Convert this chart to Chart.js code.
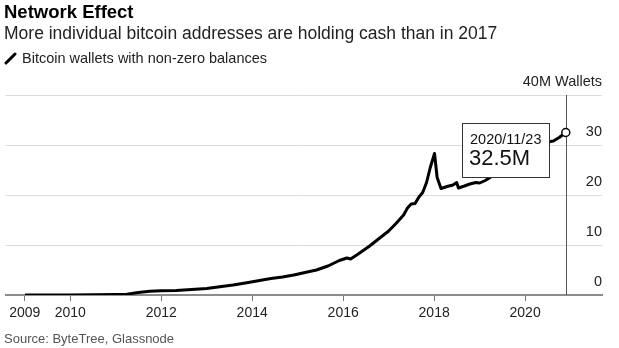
<!DOCTYPE html>
<html>
<head>
<meta charset="utf-8">
<script src="https://cdn.jsdelivr.net/npm/chart.js@4.4.0/dist/chart.umd.min.js"></script>
<style>
  body { margin: 0; background: #fff; font-family: "Liberation Sans", Arial, sans-serif; }
  #wrap { position: relative; width: 619px; height: 348px; overflow: hidden; }
  #chart { position: absolute; left: 0; top: 0; }
  .txt { position: absolute; white-space: nowrap; line-height: 1; }
  .title { left: 4px; top: 3px; font-size: 18.5px; font-weight: bold; color: #000; }
  .subtitle { left: 4px; top: 24.5px; font-size: 17.5px; color: #222; }
  .legend { left: 22px; top: 51px; font-size: 14.5px; color: #222; }
  .legend-icon { position: absolute; left: 4px; top: 52px; }
  .source { left: 4px; top: 332px; font-size: 13px; color: #555; }
</style>
</head>
<body>
<div id="wrap">
  <canvas id="chart" width="619" height="348"></canvas>
  <div class="txt title">Network Effect</div>
  <div class="txt subtitle">More individual bitcoin addresses are holding cash than in 2017</div>
  <svg class="legend-icon" width="14" height="14"><line x1="2" y1="11" x2="11" y2="2" stroke="#000" stroke-width="3" stroke-linecap="round"/></svg>
  <div class="txt legend">Bitcoin wallets with non-zero balances</div>
  <div class="txt source">Source: ByteTree, Glassnode</div>
</div>
<script>
// wallets with non-zero balance, millions
const dates = [
  '2009-01-03', '2009-07-01', '2010-01-01', '2010-07-01', '2011-01-01', '2011-04-01',
  '2011-07-01', '2011-10-01', '2012-01-01', '2012-05-01', '2012-09-01', '2013-01-01',
  '2013-04-01', '2013-08-01', '2013-12-01', '2014-03-01', '2014-06-01', '2014-09-01',
  '2014-12-01', '2015-03-01', '2015-06-01', '2015-09-01', '2015-12-01', '2016-02-01',
  '2016-03-01', '2016-05-01', '2016-08-01', '2016-10-01', '2017-01-01', '2017-03-01',
  '2017-05-01', '2017-06-01', '2017-07-01', '2017-08-01', '2017-09-01', '2017-10-01',
  '2017-11-01', '2017-12-01', '2018-01-04', '2018-01-25', '2018-02-25', '2018-04-15',
  '2018-06-01', '2018-07-01', '2018-07-15', '2018-09-01', '2018-10-15', '2018-12-01',
  '2019-01-01', '2019-02-15', '2019-04-01', '2019-07-01', '2019-10-01', '2020-01-01',
  '2020-04-01', '2020-07-01', '2020-08-15', '2020-10-01', '2020-11-23'
];
const wallets = [
  0.0, 0.0, 0.0, 0.05, 0.1, 0.15,
  0.5, 0.75, 0.85, 0.9, 1.1, 1.3,
  1.6, 2.0, 2.5, 2.9, 3.3, 3.6,
  4.0, 4.5, 5.0, 5.8, 6.9, 7.4,
  7.2, 8.2, 9.8, 11.0, 12.8, 14.3,
  16.0, 17.4, 18.2, 18.3, 19.6, 20.5,
  22.5, 25.5, 28.3, 23.5, 21.3, 21.7,
  22.0, 22.5, 21.4, 21.8, 22.2, 22.5,
  22.4, 22.9, 23.6, 24.8, 26.0, 27.5,
  29.0, 30.6, 30.8, 31.5, 32.5
];
const yearTicks = [2009, 2010, 2012, 2014, 2016, 2018, 2020];
const valueTicks = [0, 10, 20, 30, 40];
const unitLabel = 'M Wallets';

function toYear(s) {
  const d = new Date(s + 'T00:00:00Z');
  const y = d.getUTCFullYear();
  const start = Date.UTC(y, 0, 1), end = Date.UTC(y + 1, 0, 1);
  return y + (d.getTime() - start) / (end - start);
}

const points = dates.map((d, i) => ({ x: toYear(d), y: wallets[i] }));
const lastIdx = points.length - 1;
const FONT = '"Liberation Sans", Arial, sans-serif';

// vertical marker at the latest reading plus the callout box
const endMarker = {
  id: 'endMarker',
  beforeDatasetsDraw(chart) {
    const { ctx, scales: { x, y } } = chart;
    const px = Math.round(x.getPixelForValue(points[lastIdx].x)) + 0.5;
    ctx.save();
    ctx.strokeStyle = '#555';
    ctx.lineWidth = 1;
    ctx.beginPath();
    ctx.moveTo(px, y.getPixelForValue(40));
    ctx.lineTo(px, y.getPixelForValue(0));
    ctx.stroke();
    ctx.restore();
  },
  afterDatasetsDraw(chart) {
    const { ctx, scales: { x, y } } = chart;
    const px = x.getPixelForValue(points[lastIdx].x);
    const py = y.getPixelForValue(points[lastIdx].y);
    const dateText = dates[lastIdx].replace(/-/g, '/');
    const valText = wallets[lastIdx].toFixed(1) + 'M';
    ctx.save();
    ctx.font = '14.5px ' + FONT;
    const w1 = ctx.measureText(dateText).width;
    ctx.font = '22px ' + FONT;
    const w2 = ctx.measureText(valText).width;
    const bw = Math.max(w1, w2) + 16;
    const right = Math.round(px - 17);
    const left = right - Math.round(bw);
    const top = Math.round(py - 9.5);
    const bottom = Math.round(py + 44.5);
    ctx.fillStyle = '#fff';
    ctx.fillRect(left, top, right - left, bottom - top);
    ctx.strokeStyle = '#333';
    ctx.lineWidth = 1;
    ctx.strokeRect(left + 0.5, top + 0.5, right - left, bottom - top);
    ctx.fillStyle = '#111';
    ctx.textBaseline = 'alphabetic';
    ctx.font = '14.5px ' + FONT;
    ctx.fillText(dateText, left + 8, py + 11);
    ctx.font = '22px ' + FONT;
    ctx.fillText(valText, left + 7, py + 32.5);
    ctx.restore();
  }
};

new Chart(document.getElementById('chart'), {
  type: 'line',
  data: {
    datasets: [{
      data: points,
      borderColor: '#000',
      borderWidth: 3,
      borderJoinStyle: 'round',
      tension: 0,
      pointRadius: ctx => ctx.dataIndex === lastIdx ? 4 : 0,
      pointHoverRadius: 0,
      pointBackgroundColor: '#fff',
      pointBorderColor: '#000',
      pointBorderWidth: 1.5
    }]
  },
  options: {
    responsive: false,
    animation: false,
    events: [],
    layout: { padding: { left: 4, right: 17, top: 95, bottom: 23 } },
    plugins: { legend: { display: false }, tooltip: { enabled: false } },
    scales: {
      x: {
        type: 'linear',
        min: 2008.577,
        max: 2021.69,
        afterBuildTicks: scale => { scale.ticks = yearTicks.map(v => ({ value: v })); },
        afterFit: scale => { scale.height = 30; },
        grid: { drawOnChartArea: false, drawTicks: true, tickLength: 6, color: '#777', lineWidth: 1 },
        border: { display: true, color: '#8c8c8c', width: 2 },
        ticks: {
          autoSkip: false,
          maxRotation: 0,
          padding: 4,
          color: '#222',
          font: { family: FONT, size: 14 },
          callback: v => String(v)
        }
      },
      y: {
        position: 'right',
        min: 0,
        max: 40,
        afterBuildTicks: scale => { scale.ticks = valueTicks.map(v => ({ value: v })); },
        afterFit: scale => { scale.width = 0; },
        grid: { drawTicks: false, color: '#dcdcdc', lineWidth: 1 },
        border: { display: false },
        ticks: {
          mirror: true,
          padding: 0,
          labelOffset: -13,
          color: '#222',
          font: { family: FONT, size: 14.5 },
          callback: v => v === 40 ? v + unitLabel : String(v)
        }
      }
    }
  },
  plugins: [endMarker]
});
</script>
</body>
</html>
